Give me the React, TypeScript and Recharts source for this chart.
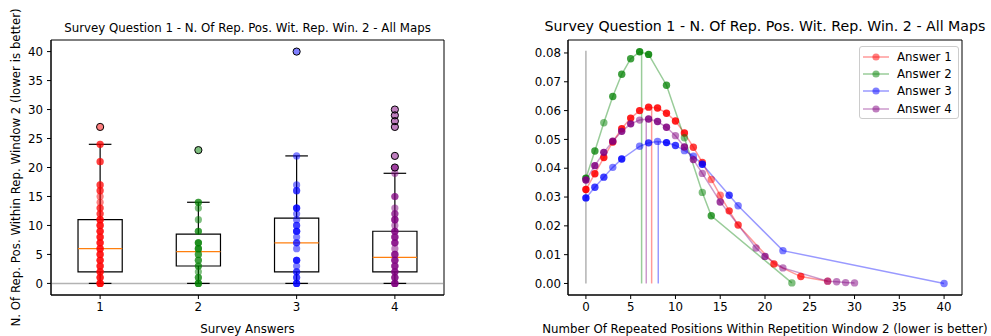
import React from "react";
import {
  ComposedChart,
  LineChart,
  Line,
  Scatter,
  XAxis,
  YAxis,
  ReferenceLine,
  ReferenceArea,
  Legend,
} from "recharts";

const FONT = "'DejaVu Sans', sans-serif";
const FS = 11.8;

const answerNames = ["Answer 1", "Answer 2", "Answer 3", "Answer 4"];
const answerColors = ["#ff0000", "#008000", "#0000ff", "#800080"];
const answerPositions = [1, 2, 3, 4];

// raw responses per answer (duplicates kept, they darken the points)
const answer1Values = [
  0, 0, 0, 0, 1, 1, 1, 2, 2, 2, 3, 3, 3, 4, 4, 4, 5, 5, 5, 6, 6, 6, 7, 7, 7,
  8, 8, 8, 9, 9, 9, 10, 10, 10, 11, 11, 11, 12, 12, 13, 13, 14, 15, 16, 16,
  17, 17, 21, 21, 24, 24, 27,
];
const answer2Values = [
  0, 0, 0, 1, 1, 2, 3, 3, 4, 4, 5, 5, 6, 6, 6, 7, 7, 7, 9, 9, 11, 13, 14, 14,
  23,
];
const answer3Values = [
  0, 0, 0, 1, 1, 2, 2, 3, 4, 4, 4, 6, 7, 7, 8, 9, 9, 9, 10, 10, 11, 12, 13,
  13, 13, 16, 16, 17, 22, 40,
];
const answer4Values = [
  0, 0, 0, 0, 1, 1, 1, 2, 2, 2, 3, 3, 3, 4, 4, 4, 5, 5, 5, 6, 7, 7, 7, 8, 8,
  8, 9, 9, 9, 10, 11, 11, 11, 12, 12, 13, 15, 15, 19, 20, 20, 22, 27, 28, 29,
  30,
];
const answerValues = [answer1Values, answer2Values, answer3Values, answer4Values];

// box plot statistics
const boxQ1 = [2, 3, 2, 2];
const boxMedian = [6, 5.5, 7, 4.5];
const boxQ3 = [11, 8.5, 11.25, 9];
const whiskerLow = [0, 0, 0, 0];
const whiskerHigh = [24, 14, 22, 19];
const fliers = [[27], [23], [40], [20, 22, 27, 28, 29, 30]];

// density curves (right panel), evaluated at each observed value
const answer1X = [0, 1, 2, 3, 4, 5, 6, 7, 8, 9, 10, 11, 12, 13, 14, 15, 16, 17, 21, 24, 27];
const answer1Y = [
  0.0326, 0.0381, 0.0437, 0.0491, 0.0537, 0.0574, 0.06, 0.0612, 0.0609,
  0.0591, 0.0564, 0.0522, 0.0473, 0.042, 0.0361, 0.0306, 0.0252, 0.0203,
  0.0068, 0.0024, 0.0008,
];
const answer2X = [0, 1, 2, 3, 4, 5, 6, 7, 9, 11, 13, 14, 23];
const answer2Y = [
  0.0365, 0.046, 0.0558, 0.0649, 0.0726, 0.078, 0.0804, 0.0795, 0.0688,
  0.0506, 0.0316, 0.0235, 0.0002,
];
const answer3X = [0, 1, 2, 3, 4, 6, 7, 8, 9, 10, 11, 12, 13, 16, 17, 22, 40];
const answer3Y = [
  0.0297, 0.0334, 0.0369, 0.0403, 0.0432, 0.0476, 0.0488, 0.0493, 0.0489,
  0.0479, 0.0461, 0.0442, 0.0414, 0.0306, 0.027, 0.0114, 0.0,
];
const answer4X = [0, 1, 2, 3, 4, 5, 6, 7, 8, 9, 10, 11, 12, 13, 15, 19, 20, 22, 27, 28, 29, 30];
const answer4Y = [
  0.0359, 0.0409, 0.0455, 0.0494, 0.0528, 0.0554, 0.0567, 0.0571, 0.0562,
  0.0542, 0.0513, 0.0474, 0.043, 0.0382, 0.0283, 0.0123, 0.0094, 0.0054,
  0.0008, 0.0006, 0.0003, 0.0002,
];
const densityX = [answer1X, answer2X, answer3X, answer4X];
const densityY = [answer1Y, answer2Y, answer3Y, answer4Y];

const meanX = [7.34, 6.22, 8.08, 6.74];
const meanHeight = [0.0612, 0.0805, 0.0492, 0.057];
const idealX = 0;
const idealHeight = 0.0808;

const leftXDomain = [0.5, 4.5];
const leftYDomain = [-2, 42];
const rightXDomain = [-2, 42];
const rightYDomain = [-0.004, 0.0845];
const leftYTicks = [0, 5, 10, 15, 20, 25, 30, 35, 40];
const rightXTicks = [0, 5, 10, 15, 20, 25, 30, 35, 40];
const rightYTicks = [0, 0.01, 0.02, 0.03, 0.04, 0.05, 0.06, 0.07, 0.08];

const BOX_HALF = 0.225;
const CAP_HALF = 0.115;

const tickStyle = { fontSize: FS, fill: "#000", fontFamily: FONT };
const labelStyle = { fontSize: FS, fill: "#000", fontFamily: FONT };

function StripDot(props: any) {
  const { cx, cy, payload } = props;
  if (cx == null || cy == null) return null;
  return (
    <circle cx={cx} cy={cy} r={3.6} fill={payload.color} fillOpacity={0.5} />
  );
}

function FlierDot(props: any) {
  const { cx, cy } = props;
  if (cx == null || cy == null) return null;
  return <circle cx={cx} cy={cy} r={3.6} fill="none" stroke="#000" strokeWidth={1} />;
}

function countOf(values: number[], v: number) {
  return values.filter((x) => x === v).length;
}

function SeriesLegend() {
  return (
    <div
      style={{
        border: "1px solid #cccccc",
        borderRadius: 3,
        background: "rgba(255,255,255,0.8)",
        padding: "1px 6px 1px 3px",
        fontFamily: FONT,
        fontSize: FS,
        color: "#000",
      }}
    >
      {answerNames.map((n, i) => (
        <div
          key={n}
          style={{ display: "flex", alignItems: "center", height: 17.3 }}
        >
          <svg width={26} height={10}>
            <line
              x1={0}
              y1={5}
              x2={26}
              y2={5}
              stroke={answerColors[i]}
              strokeOpacity={0.4}
              strokeWidth={1.5}
            />
            <circle cx={13} cy={5} r={3.6} fill={answerColors[i]} fillOpacity={0.5} />
          </svg>
          <span style={{ marginLeft: 8 }}>{n}</span>
        </div>
      ))}
    </div>
  );
}

function BoxPlotPanel() {
  return (
    <ComposedChart
      width={460}
      height={336}
      margin={{ top: 40, right: 16, left: 0, bottom: 0 }}
    >
      <XAxis
        type="number"
        dataKey="x"
        domain={leftXDomain}
        ticks={answerPositions}
        allowDataOverflow
        height={41}
        tick={tickStyle}
        tickSize={4}
        tickMargin={4}
        stroke="#000"
        label={{
          value: "Survey Answers",
          position: "insideBottom",
          offset: 3,
          style: labelStyle,
        }}
      />
      <YAxis
        type="number"
        dataKey="y"
        domain={leftYDomain}
        ticks={leftYTicks}
        allowDataOverflow
        width={51}
        tick={tickStyle}
        tickSize={4}
        tickMargin={4}
        stroke="#000"
        label={{
          value: "N. Of Rep. Pos. Within Rep. Window 2 (lower is better)",
          angle: -90,
          position: "insideLeft",
          offset: 16,
          style: { ...labelStyle, textAnchor: "middle" },
        }}
      />
      <ReferenceArea
        x1={leftXDomain[0]}
        x2={leftXDomain[1]}
        y1={leftYDomain[0]}
        y2={leftYDomain[1]}
        fill="none"
        fillOpacity={0}
        stroke="#000"
        strokeWidth={1}
        ifOverflow="visible"
      />
      <ReferenceLine y={0} stroke="#808080" strokeOpacity={0.6} strokeWidth={1.5} />
      {answerValues.map((vals, i) => (
        <Scatter
          key={answerNames[i]}
          name={answerNames[i]}
          data={vals.map((v) => ({ x: answerPositions[i], y: v, color: answerColors[i] }))}
          shape={<StripDot />}
          isAnimationActive={false}
        />
      ))}
      {answerPositions.map((p, i) => (
        <ReferenceArea
          key={`box-${p}`}
          x1={p - BOX_HALF}
          x2={p + BOX_HALF}
          y1={boxQ1[i]}
          y2={boxQ3[i]}
          fill="none"
          fillOpacity={0}
          stroke="#000"
          strokeWidth={1.2}
        />
      ))}
      {answerPositions.map((p, i) => (
        <ReferenceLine
          key={`wlo-${p}`}
          segment={[
            { x: p, y: whiskerLow[i] },
            { x: p, y: boxQ1[i] },
          ]}
          stroke="#000"
          strokeWidth={1.2}
        />
      ))}
      {answerPositions.map((p, i) => (
        <ReferenceLine
          key={`whi-${p}`}
          segment={[
            { x: p, y: boxQ3[i] },
            { x: p, y: whiskerHigh[i] },
          ]}
          stroke="#000"
          strokeWidth={1.2}
        />
      ))}
      {answerPositions.map((p, i) => (
        <ReferenceLine
          key={`clo-${p}`}
          segment={[
            { x: p - CAP_HALF, y: whiskerLow[i] },
            { x: p + CAP_HALF, y: whiskerLow[i] },
          ]}
          stroke="#000"
          strokeWidth={1.2}
        />
      ))}
      {answerPositions.map((p, i) => (
        <ReferenceLine
          key={`chi-${p}`}
          segment={[
            { x: p - CAP_HALF, y: whiskerHigh[i] },
            { x: p + CAP_HALF, y: whiskerHigh[i] },
          ]}
          stroke="#000"
          strokeWidth={1.2}
        />
      ))}
      {answerPositions.map((p, i) => (
        <ReferenceLine
          key={`med-${p}`}
          segment={[
            { x: p - BOX_HALF, y: boxMedian[i] },
            { x: p + BOX_HALF, y: boxMedian[i] },
          ]}
          stroke="#ff7f0e"
          strokeWidth={1.2}
        />
      ))}
      <Scatter
        name="fliers"
        data={fliers.flatMap((f, i) => f.map((v) => ({ x: answerPositions[i], y: v })))}
        shape={<FlierDot />}
        isAnimationActive={false}
      />
    </ComposedChart>
  );
}

function DensityPanel() {
  return (
    <LineChart
      width={471}
      height={336}
      margin={{ top: 40, right: 29, left: 0, bottom: 0 }}
    >
      <XAxis
        type="number"
        dataKey="x"
        domain={rightXDomain}
        ticks={rightXTicks}
        allowDataOverflow
        height={41}
        tick={tickStyle}
        tickSize={4}
        tickMargin={4}
        stroke="#000"
        label={{
          value: "Number Of Repeated Positions Within Repetition Window 2 (lower is better)",
          position: "insideBottom",
          offset: 3,
          style: labelStyle,
        }}
      />
      <YAxis
        type="number"
        domain={rightYDomain}
        ticks={rightYTicks}
        allowDataOverflow
        width={48}
        tick={tickStyle}
        tickSize={4}
        tickMargin={3}
        tickFormatter={(v: number) => v.toFixed(2)}
        stroke="#000"
      />
      <ReferenceArea
        x1={rightXDomain[0]}
        x2={rightXDomain[1]}
        y1={rightYDomain[0]}
        y2={rightYDomain[1]}
        fill="none"
        fillOpacity={0}
        stroke="#000"
        strokeWidth={1}
        ifOverflow="visible"
      />
      <ReferenceLine
        segment={[
          { x: idealX, y: 0 },
          { x: idealX, y: idealHeight },
        ]}
        stroke="#808080"
        strokeOpacity={0.6}
        strokeWidth={1.5}
      />
      {meanX.map((m, i) => (
        <ReferenceLine
          key={`mean-${i}`}
          segment={[
            { x: m, y: 0 },
            { x: m, y: meanHeight[i] },
          ]}
          stroke={answerColors[i]}
          strokeOpacity={0.4}
          strokeWidth={1.5}
        />
      ))}
      {densityX.map((xs, i) => (
        <Line
          key={answerNames[i]}
          name={answerNames[i]}
          data={xs.map((x, j) => ({ x, y: densityY[i][j] }))}
          dataKey="y"
          stroke={answerColors[i]}
          strokeOpacity={0.4}
          strokeWidth={1.5}
          isAnimationActive={false}
          activeDot={false}
          dot={(p: any) => {
            const n = countOf(answerValues[i], p.payload.x);
            return (
              <circle
                key={`d-${i}-${p.index}`}
                cx={p.cx}
                cy={p.cy}
                r={3.7}
                fill={answerColors[i]}
                fillOpacity={1 - Math.pow(0.5, Math.max(n, 1))}
              />
            );
          }}
        />
      ))}
      <Legend
        layout="horizontal"
        verticalAlign="middle"
        align="center"
        content={<SeriesLegend />}
        wrapperStyle={{ left: 339, top: 46, width: "auto" }}
      />
    </LineChart>
  );
}

export default function App() {
  return (
    <div
      style={{
        position: "absolute",
        left: 0,
        top: 0,
        width: 991,
        height: 336,
        background: "#fff",
        fontFamily: FONT,
      }}
    >
      <div
        style={{
          position: "absolute",
          left: 51,
          width: 393,
          top: 21,
          textAlign: "center",
          fontSize: FS,
          whiteSpace: "nowrap",
        }}
      >
        Survey Question 1 - N. Of Rep. Pos. Wit. Rep. Win. 2 - All Maps
      </div>
      <div
        style={{
          position: "absolute",
          left: 468,
          width: 594,
          top: 18,
          textAlign: "center",
          fontSize: 14.2,
          whiteSpace: "nowrap",
        }}
      >
        Survey Question 1 - N. Of Rep. Pos. Wit. Rep. Win. 2 - All Maps
      </div>
      <div style={{ position: "absolute", left: 0, top: 0 }}>
        <BoxPlotPanel />
      </div>
      <div style={{ position: "absolute", left: 520, top: 0 }}>
        <DensityPanel />
      </div>
    </div>
  );
}
